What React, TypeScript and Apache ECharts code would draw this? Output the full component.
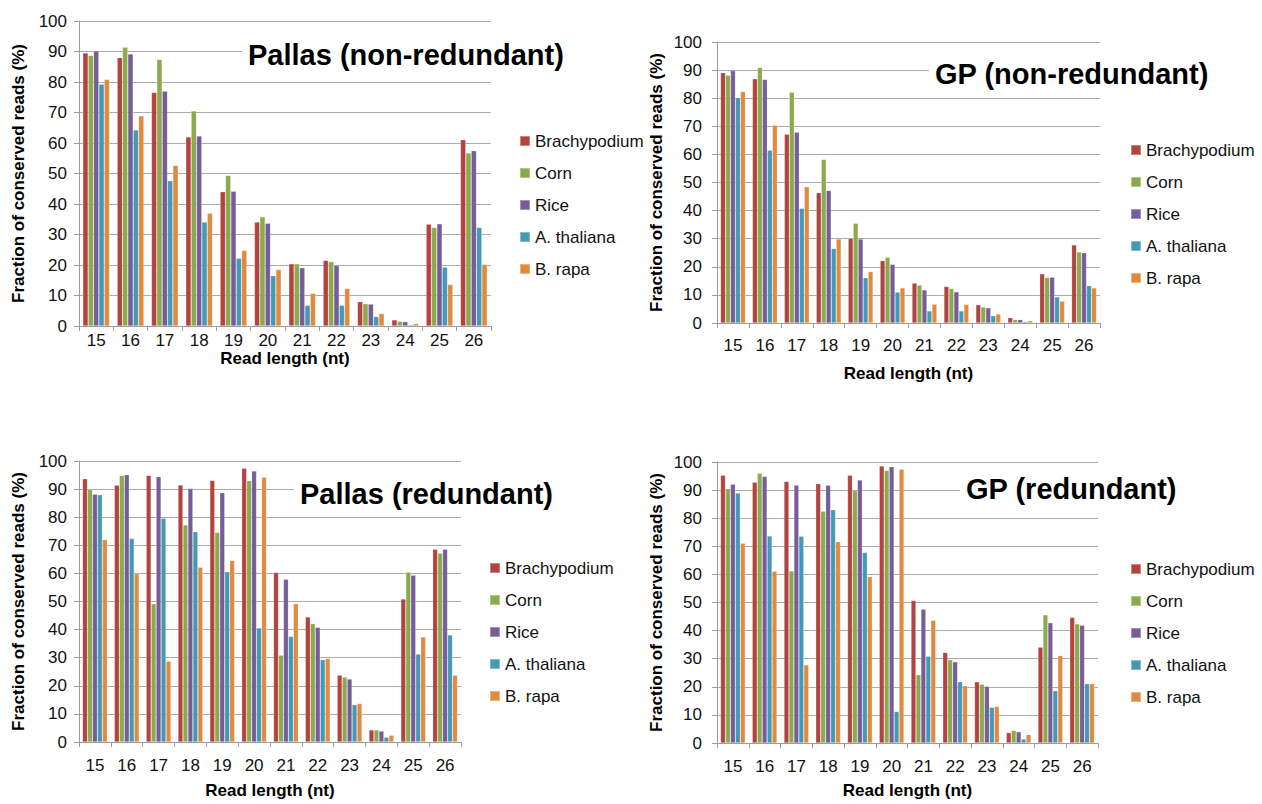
import React, { useEffect, useRef } from "react";
import * as echarts from "echarts";

const categories = ["15", "16", "17", "18", "19", "20", "21", "22", "23", "24", "25", "26"];
const seriesNames = ["Brachypodium", "Corn", "Rice", "A. thaliana", "B. rapa"];
const colors = ["#B2433F", "#8CA94D", "#765C98", "#4499B4", "#E18A3F"];

// Pallas (non-redundant)
const pallasNR_brachy = [89.5, 88.0, 76.6, 62.0, 44.0, 34.1, 20.4, 21.5, 8.0, 2.0, 33.4, 61.1];
const pallasNR_corn = [88.7, 91.4, 87.4, 70.5, 49.4, 35.8, 20.4, 21.1, 7.3, 1.5, 32.3, 56.7];
const pallasNR_rice = [90.2, 89.2, 77.0, 62.3, 44.2, 33.7, 19.1, 19.9, 7.2, 1.4, 33.5, 57.5];
const pallasNR_ath = [79.3, 64.3, 47.6, 34.1, 22.2, 16.5, 6.8, 6.8, 3.1, 0.4, 19.3, 32.3];
const pallasNR_brapa = [80.8, 68.9, 52.6, 37.0, 24.8, 18.5, 10.7, 12.3, 4.1, 0.8, 13.6, 20.2];

// GP (non-redundant)
const gpNR_brachy = [89.1, 86.9, 67.2, 46.4, 30.1, 22.2, 14.2, 13.0, 6.5, 1.9, 17.5, 27.8];
const gpNR_corn = [88.2, 90.9, 82.1, 58.2, 35.5, 23.4, 13.5, 12.3, 5.7, 1.2, 16.2, 25.3];
const gpNR_rice = [89.9, 86.7, 67.9, 47.2, 29.9, 20.9, 11.8, 11.1, 5.4, 1.2, 16.3, 25.0];
const gpNR_ath = [80.2, 61.5, 40.8, 26.5, 16.1, 11.0, 4.3, 4.3, 2.6, 0.5, 9.3, 13.3];
const gpNR_brapa = [82.4, 70.4, 48.5, 29.9, 18.3, 12.5, 6.7, 6.6, 3.2, 0.8, 7.8, 12.5];

// Pallas (redundant)
const pallasR_brachy = [93.7, 91.4, 94.9, 91.5, 93.1, 97.4, 60.3, 44.5, 23.8, 4.3, 50.9, 68.6];
const pallasR_corn = [89.8, 94.9, 49.2, 77.2, 74.6, 93.0, 30.9, 42.1, 23.1, 4.3, 60.4, 67.2];
const pallasR_rice = [88.2, 95.1, 94.4, 90.2, 88.7, 96.5, 57.9, 40.8, 22.4, 3.9, 59.4, 68.6];
const pallasR_ath = [88.0, 72.4, 79.6, 74.8, 60.6, 40.6, 37.6, 29.3, 13.3, 1.7, 31.3, 38.1];
const pallasR_brapa = [72.0, 59.9, 28.8, 62.2, 64.6, 94.2, 49.2, 29.7, 13.7, 2.4, 37.4, 23.8];

// GP (redundant)
const gpR_brachy = [95.3, 92.8, 93.1, 92.3, 95.3, 98.6, 50.7, 32.2, 21.8, 3.7, 34.1, 44.7];
const gpR_corn = [90.5, 96.0, 61.2, 82.5, 89.8, 97.0, 24.3, 29.7, 20.9, 4.5, 45.6, 42.4];
const gpR_rice = [92.1, 94.9, 91.7, 91.7, 93.6, 98.3, 47.6, 28.9, 20.2, 4.0, 42.8, 41.9];
const gpR_ath = [89.0, 73.7, 73.6, 83.0, 67.8, 11.2, 30.9, 21.8, 12.7, 1.4, 18.6, 21.1];
const gpR_brapa = [71.1, 61.1, 27.8, 71.6, 59.2, 97.4, 43.7, 20.4, 13.0, 3.0, 31.1, 21.1];

const yTicks = { min: 0, max: 100, interval: 10 };
const xAxisTitle = "Read length (nt)";
const yAxisTitle = "Fraction of conserved reads (%)";

const FONT = "'Liberation Sans', Arial, Helvetica, sans-serif";

type Panel = {
  title: string;
  data: number[][];
  grid: { left: number; top: number; width: number; height: number };
  titlePos: { left: number; top: number };
  legendPos: { left: number; top: number };
  xLabelMargin: number;
  xNameGap: number;
  yLabelMargin: number;
  yNameGap: number;
};

const panels: Panel[] = [
  {
    title: "Pallas (non-redundant)",
    data: [pallasNR_brachy, pallasNR_corn, pallasNR_rice, pallasNR_ath, pallasNR_brapa],
    grid: { left: 79, top: 21, width: 412, height: 305 },
    titlePos: { left: 242, top: 36 },
    legendPos: { left: 519, top: 131 },
    xLabelMargin: 6,
    xNameGap: 24,
    yLabelMargin: 12,
    yNameGap: 52,
  },
  {
    title: "GP (non-redundant)",
    data: [gpNR_brachy, gpNR_corn, gpNR_rice, gpNR_ath, gpNR_brapa],
    grid: { left: 717, top: 42, width: 383, height: 281 },
    titlePos: { left: 929, top: 55 },
    legendPos: { left: 1130, top: 140 },
    xLabelMargin: 14,
    xNameGap: 42,
    yLabelMargin: 15,
    yNameGap: 52,
  },
  {
    title: "Pallas (redundant)",
    data: [pallasR_brachy, pallasR_corn, pallasR_rice, pallasR_ath, pallasR_brapa],
    grid: { left: 79, top: 461, width: 382, height: 281 },
    titlePos: { left: 294, top: 475 },
    legendPos: { left: 489, top: 558 },
    xLabelMargin: 15,
    xNameGap: 40,
    yLabelMargin: 12,
    yNameGap: 52,
  },
  {
    title: "GP (redundant)",
    data: [gpR_brachy, gpR_corn, gpR_rice, gpR_ath, gpR_brapa],
    grid: { left: 717, top: 462, width: 381, height: 281 },
    titlePos: { left: 960, top: 470 },
    legendPos: { left: 1130, top: 559 },
    xLabelMargin: 15,
    xNameGap: 39,
    yLabelMargin: 15,
    yNameGap: 52,
  },
];

export default function App() {
  const ref = useRef<HTMLDivElement>(null);

  useEffect(() => {
    if (!ref.current) return;
    const chart = echarts.init(ref.current, undefined, { renderer: "svg" });

    const axisLineColor = "#9c9c9c";
    const gridColor = "#ababab";

    const option: any = {
      animation: false,
      backgroundColor: "#ffffff",
      color: colors,
      textStyle: { fontFamily: FONT },
      title: panels.map((p) => ({
        text: p.title,
        left: p.titlePos.left,
        top: p.titlePos.top,
        backgroundColor: "#ffffff",
        padding: [4, 6],
        textStyle: { fontFamily: FONT, fontSize: 29, fontWeight: "bold", color: "#000" },
      })),
      legend: panels.map((p) => ({
        data: seriesNames,
        orient: "vertical",
        left: p.legendPos.left,
        top: p.legendPos.top,
        itemWidth: 10,
        itemHeight: 10,
        itemGap: 12,
        icon: "rect",
        padding: 0,
        selectedMode: false,
        textStyle: { fontFamily: FONT, fontSize: 17, color: "#111", lineHeight: 20 },
      })),
      grid: panels.map((p) => ({ ...p.grid, containLabel: false })),
      xAxis: panels.map((p, i) => ({
        type: "category",
        gridIndex: i,
        data: categories,
        name: xAxisTitle,
        nameLocation: "middle",
        nameGap: p.xNameGap,
        nameTextStyle: { fontFamily: FONT, fontSize: 17, fontWeight: "bold", color: "#000" },
        axisLine: { show: true, lineStyle: { color: axisLineColor, width: 1 } },
        axisTick: { show: true, length: 5, alignWithLabel: false, lineStyle: { color: axisLineColor } },
        axisLabel: { margin: p.xLabelMargin, fontFamily: FONT, fontSize: 17, color: "#111" },
        splitLine: { show: false },
      })),
      yAxis: panels.map((p, i) => ({
        type: "value",
        gridIndex: i,
        min: yTicks.min,
        max: yTicks.max,
        interval: yTicks.interval,
        name: yAxisTitle,
        nameLocation: "middle",
        nameGap: p.yNameGap,
        nameTextStyle: { fontFamily: FONT, fontSize: 17, fontWeight: "bold", color: "#000" },
        axisLine: { show: true, lineStyle: { color: axisLineColor, width: 1 } },
        axisTick: { show: true, length: 5, lineStyle: { color: axisLineColor } },
        axisLabel: { margin: p.yLabelMargin, fontFamily: FONT, fontSize: 17, color: "#111" },
        splitLine: { show: true, lineStyle: { color: gridColor, width: 1 } },
      })),
      series: panels.flatMap((p, i) =>
        p.data.map((vals, s) => ({
          type: "bar",
          name: seriesNames[s],
          xAxisIndex: i,
          yAxisIndex: i,
          data: vals,
          barGap: "0%",
          barCategoryGap: "22%",
          itemStyle: {
            color: colors[s],
            borderColor: "rgba(255,255,255,0.35)",
            borderWidth: 0.6,
          },
        }))
      ),
    };

    chart.setOption(option);
    return () => {
      chart.dispose();
    };
  }, []);

  return (
    <div
      ref={ref}
      style={{ position: "fixed", left: 0, top: 0, width: 1262, height: 804, background: "#fff" }}
    />
  );
}
